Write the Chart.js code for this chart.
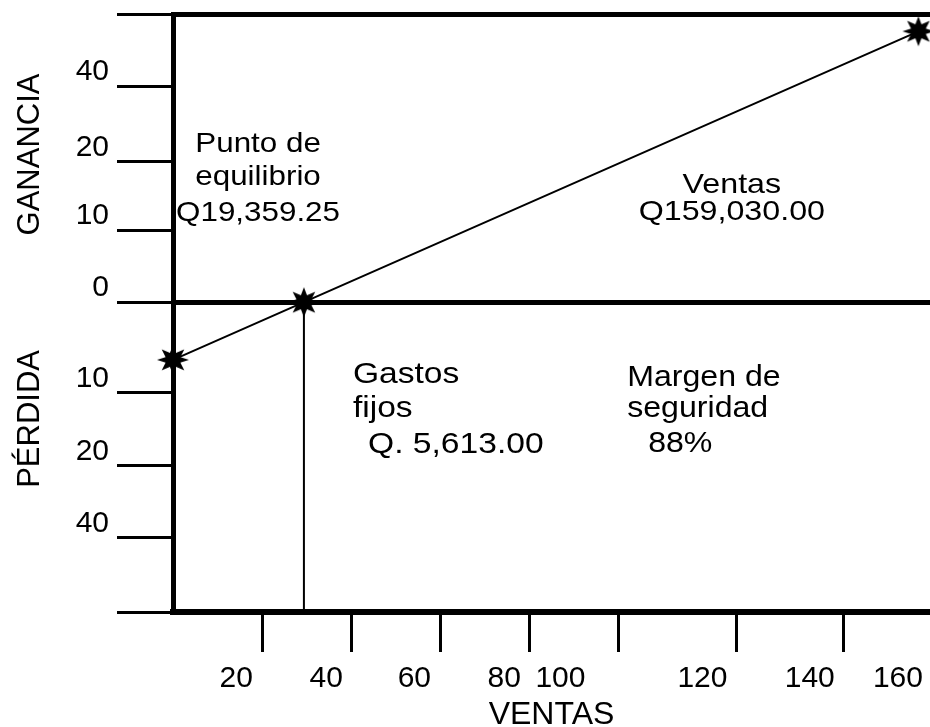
<!DOCTYPE html>
<html>
<head>
<meta charset="utf-8">
<script src="https://cdn.jsdelivr.net/npm/chart.js@4.4.0/dist/chart.umd.min.js"></script>
<style>
  html, body { margin: 0; padding: 0; background: #fff; }
</style>
</head>
<body>
<canvas id="equilibrio" width="930" height="727"></canvas>
<script>
// values (x = ventas in thousands, y = drawing levels)
const salesX = [0, 29.4, 167.4];
const resultY = [-0.8, 0, 3.76];
const breakEvenX = 29.4;

const xTickAt = [20, 40, 60, 80, 100, 126.5, 150.5];
const xLabelAt = [14.2, 34.4, 54.2, 74.4, 87, 118.9, 143, 162.8];
const xLabelText = ['20', '40', '60', '80', '100', '120', '140', '160'];

const yTickAt = [3, 1.95, 1, 0, -1.25, -2.27, -3.27];
const yTickText = ['40', '20', '10', '0', '10', '20', '40'];
const xMin = 0, xMax = 170, yMin = -4.3, yMax = 4;

const breakEvenNote = ['Punto de', 'equilibrio', 'Q19,359.25'];
const salesNote = ['Ventas', 'Q159,030.00'];
const fixedNote = ['Gastos', 'fijos', 'Q. 5,613.00'];
const marginNote = ['Margen de', 'seguridad', '88%'];

const FONT = "'Liberation Sans', Arial, sans-serif";

// 8 point filled star used as marker
function makeStar(rx, ry, inner) {
    const c = document.createElement('canvas');
    c.width = Math.ceil(rx * 2 + 2);
    c.height = Math.ceil(ry * 2 + 2);
    const g = c.getContext('2d');
    g.translate(c.width / 2, c.height / 2);
    g.beginPath();
    for (let i = 0; i < 16; i++) {
        const a = i * Math.PI / 8 - Math.PI / 2;
        const r = i % 2 ? inner : 1;
        g.lineTo(Math.cos(a) * rx * r, Math.sin(a) * ry * r);
    }
    g.closePath();
    g.fillStyle = '#000';
    g.fill();
    return c;
}
const star = makeStar(16, 15, 0.5);

function stretchText(ctx, text, px, py, size, sx, align) {
    ctx.save();
    ctx.font = size + 'px ' + FONT;
    ctx.fillStyle = '#000';
    ctx.textAlign = align;
    ctx.textBaseline = 'alphabetic';
    ctx.translate(px, py);
    ctx.scale(sx, 1);
    ctx.fillText(text, 0, 0);
    ctx.restore();
}

const notesPlugin = {
    id: 'notes',
    afterDraw(chart) {
        const { ctx, scales: { x, y } } = chart;
        const put = (lines, xs, ys, size, sx, align) => lines.forEach((t, i) =>
            stretchText(ctx, t, x.getPixelForValue(xs[i]), y.getPixelForValue(ys[i]), size, sx, align));

        put(breakEvenNote, [19.1, 19.1, 19.1], [2.09, 1.62, 1.13], 28, 1.12, 'center');
        put(salesNote, [125.5, 125.5], [1.52, 1.146], 28, 1.15, 'center');
        put(fixedNote, [40.4, 40.4, 43.8], [-1.12, -1.60, -2.09], 30, 1.12, 'left');
        put(marginNote, [102, 102, 106.7], [-1.17, -1.60, -2.08], 30, 1.07, 'left');

        // side titles
        const side = (text, v) => {
            ctx.save();
            ctx.font = '31px ' + FONT;
            ctx.fillStyle = '#000';
            ctx.textAlign = 'center';
            ctx.textBaseline = 'middle';
            ctx.translate(30, y.getPixelForValue(v));
            ctx.rotate(-Math.PI / 2);
            ctx.fillText(text, 0, 0);
            ctx.restore();
        };
        side('GANANCIA', 2.05);
        side('PÉRDIDA', -1.62);
    }
};

const isLine = v => v === yMax || v === 0 || v === yMin;

new Chart(document.getElementById('equilibrio'), {
    type: 'line',
    data: {
        datasets: [{
            label: 'Ventas',
            data: salesX.map((v, i) => ({ x: v, y: resultY[i] })),
            borderColor: '#000',
            borderWidth: 2,
            pointStyle: star,
            pointRadius: 16,
            clip: false
        }, {
            label: 'Equilibrio',
            data: [{ x: breakEvenX, y: 0 }, { x: breakEvenX, y: yMin }],
            borderColor: '#000',
            borderWidth: 2,
            pointRadius: 0
        }]
    },
    options: {
        responsive: false,
        animation: false,
        layout: { autoPadding: false, padding: { top: 14, left: 0, right: 0, bottom: 0 } },
        plugins: { legend: { display: false }, tooltip: { enabled: false } },
        scales: {
            x: {
                type: 'linear', min: xMin, max: xMax, position: 'bottom', weight: 0,
                afterBuildTicks: s => { s.ticks = xTickAt.map(v => ({ value: v })); },
                ticks: { display: false },
                grid: { drawOnChartArea: false, drawTicks: true, tickLength: 40, tickWidth: 3, tickColor: '#000', color: '#000' },
                border: { display: true, color: '#000', width: 6 },
                afterFit: s => { s.height = 40; s.paddingLeft = 0; s.paddingRight = 0; }
            },
            x2: {
                type: 'linear', min: xMin, max: xMax, position: 'bottom', weight: 1,
                afterBuildTicks: s => { s.ticks = xLabelAt.map(v => ({ value: v })); },
                ticks: {
                    autoSkip: false, maxRotation: 0, padding: 1, color: '#000',
                    font: { family: FONT, size: 30 },
                    callback: (v, i) => xLabelText[i]
                },
                grid: { display: false },
                border: { display: false },
                title: { display: true, text: 'VENTAS', color: '#000', font: { family: FONT, size: 32, lineHeight: 0.72 }, padding: 0 },
                afterFit: s => { s.height = 75; s.paddingLeft = 0; s.paddingRight = 0; }
            },
            y: {
                type: 'linear', min: yMin, max: yMax, position: 'left',
                afterBuildTicks: s => {
                    s.ticks = [yMin, ...yTickAt, yMax].sort((a, b) => a - b).map(v => ({ value: v }));
                },
                ticks: {
                    autoSkip: false, padding: 8, labelOffset: -14, color: '#000',
                    font: { family: FONT, size: 30 },
                    callback: v => { const i = yTickAt.indexOf(v); return i < 0 ? '' : yTickText[i]; }
                },
                grid: {
                    drawTicks: true, tickLength: 56, tickWidth: 3, tickColor: '#000',
                    color: c => isLine(c.tick.value) ? '#000' : 'rgba(0,0,0,0)',
                    lineWidth: 5
                },
                border: { display: true, color: '#000', width: 5 },
                afterFit: s => { s.width = 173; s.paddingTop = 0; s.paddingBottom = 0; }
            }
        }
    },
    plugins: [notesPlugin]
});
</script>
</body>
</html>
